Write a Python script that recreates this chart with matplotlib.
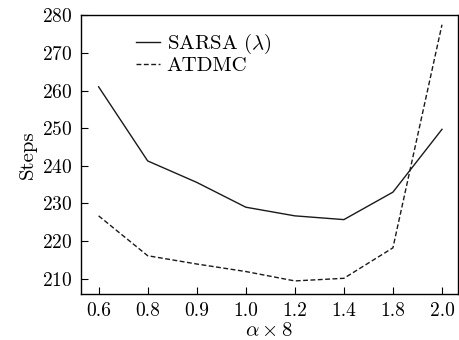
import matplotlib
matplotlib.use('Agg')
import matplotlib.pyplot as plt
import numpy as np

plt.rcParams['font.family'] = 'cmr10'
plt.rcParams['mathtext.fontset'] = 'cm'
plt.rcParams['axes.unicode_minus'] = False
plt.rcParams['axes.formatter.use_mathtext'] = True

alphas = ['0.6', '0.8', '0.9', '1.0', '1.2', '1.4', '1.8', '2.0']
sarsa = [261.0, 241.3, 235.6, 229.0, 226.7, 225.7, 233.0, 249.7]
atdmc = [226.7, 216.1, 213.9, 211.9, 209.4, 210.1, 218.2, 277.5]

fig = plt.figure(figsize=(4.6, 3.4), dpi=100)
ax = fig.add_axes([0.176, 0.135, 0.820, 0.821])

x = np.arange(len(alphas))
ax.plot(x, sarsa, '-', color='#1a1a1a', linewidth=1.0, label=r'SARSA ($\lambda$)')
ax.plot(x, atdmc, '--', color='#1a1a1a', linewidth=1.0, dashes=(3.5, 1.8),
        label='ATDMC')

ax.set_xticks(x)
ax.set_xticklabels(alphas)
ax.set_yticks([210, 220, 230, 240, 250, 260, 270, 280])
ax.set_xlim(-0.36, 7.33)
ax.set_ylim(205.9, 280.1)
ax.tick_params(axis='both', direction='in', labelsize=14, length=5, width=0.8,
               pad=6, top=False, right=False)
for s in ax.spines.values():
    s.set_linewidth(1.0)
ax.set_xlabel(r'$\alpha \times 8$', fontsize=15, labelpad=1)
ax.set_ylabel('Steps', fontsize=15, labelpad=4)
ax.legend(loc='upper left', bbox_to_anchor=(0.095, 1.005), frameon=False, fontsize=15,
          handlelength=1.15, handletextpad=0.35, labelspacing=0.0)

fig.savefig('out.png', dpi=100)
